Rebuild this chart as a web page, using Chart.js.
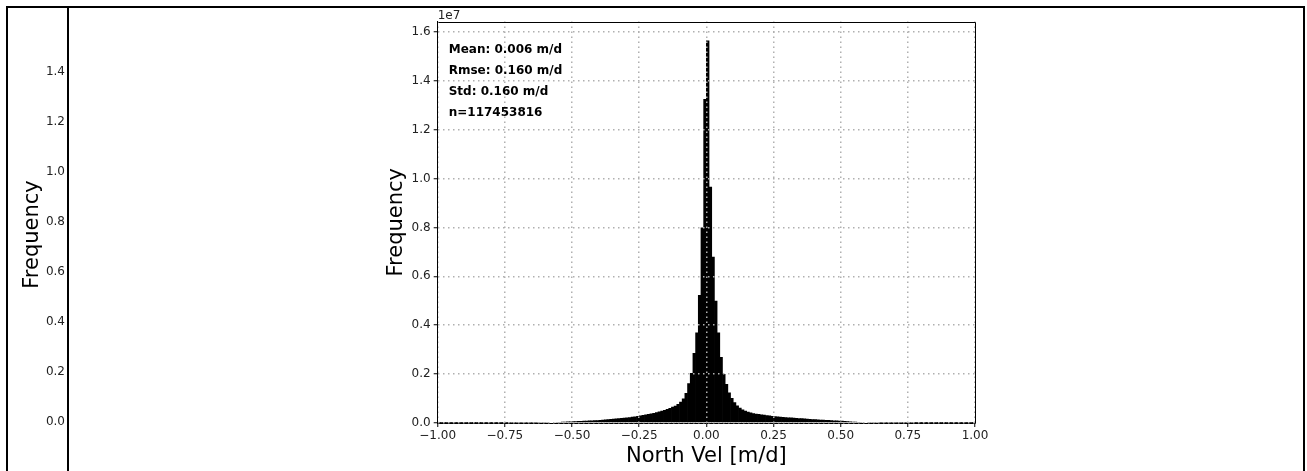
<!DOCTYPE html>
<html>
<head>
<meta charset="utf-8">
<script src="https://cdn.jsdelivr.net/npm/chart.js@4/dist/chart.umd.min.js"></script>
<style>
  body { margin: 0; background: #fff; width: 1307px; height: 471px; overflow: hidden; position: relative; }
  .frame { position: absolute; left: 6px; top: 6px; width: 1295px; height: 480px; border: 2px solid #000; border-bottom: none; }
  .divider { position: absolute; left: 67px; top: 6px; width: 2px; height: 480px; background: #000; }
  canvas { position: absolute; left: 0; top: 0; }
</style>
</head>
<body>
<div class="frame"></div>
<div class="divider"></div>
<canvas id="side" width="200" height="471"></canvas>
<canvas id="main" width="1307" height="471"></canvas>
<script>
// histogram: 200 bins from -1 to 1 m/d, counts in units of 1e7
const binStart = -1;
const binWidth = 0.01;
const freqE7 = [
  0.0001, 0.0001, 0.0001, 0.0001, 0.0001, 0.0001, 0.0002, 0.0002, 0.0002, 0.0002,
  0.0002, 0.0002, 0.0002, 0.0002, 0.0003, 0.0003, 0.0003, 0.0003, 0.0003, 0.0004,
  0.0004, 0.0004, 0.0004, 0.0005, 0.0005, 0.0005, 0.0006, 0.0006, 0.0007, 0.0007,
  0.0008, 0.0009, 0.0010, 0.0011, 0.0012, 0.0013, 0.0015, 0.0017, 0.0019, 0.0021,
  0.0024, 0.0027, 0.0030, 0.0034, 0.0038, 0.0042, 0.0047, 0.0052, 0.0058, 0.0064,
  0.0070, 0.0075, 0.0080, 0.0085, 0.0090, 0.0095, 0.0100, 0.0105, 0.0110, 0.0115,
  0.0120, 0.0130, 0.0140, 0.0150, 0.0160, 0.0170, 0.0180, 0.0190, 0.0200, 0.0210,
  0.0230, 0.0240, 0.0260, 0.0270, 0.0290, 0.0310, 0.0330, 0.0350, 0.0370, 0.0390,
  0.0410, 0.0440, 0.0470, 0.0500, 0.0530, 0.0570, 0.0610, 0.0660, 0.0710, 0.0780,
  0.0870, 0.1000, 0.1230, 0.1630, 0.2040, 0.2860, 0.3700, 0.5230, 0.8000, 1.3250,
  1.5640, 0.9660, 0.6800, 0.5000, 0.3700, 0.2700, 0.2000, 0.1600, 0.1250, 0.1020,
  0.0850, 0.0720, 0.0620, 0.0550, 0.0500, 0.0460, 0.0430, 0.0400, 0.0380, 0.0365,
  0.0350, 0.0340, 0.0320, 0.0310, 0.0290, 0.0280, 0.0270, 0.0260, 0.0250, 0.0240,
  0.0230, 0.0220, 0.0210, 0.0200, 0.0195, 0.0190, 0.0180, 0.0170, 0.0160, 0.0155,
  0.0150, 0.0140, 0.0135, 0.0130, 0.0125, 0.0120, 0.0110, 0.0105, 0.0100, 0.0095,
  0.0090, 0.0080, 0.0070, 0.0062, 0.0055, 0.0050, 0.0044, 0.0038, 0.0033, 0.0029,
  0.0025, 0.0022, 0.0019, 0.0017, 0.0015, 0.0014, 0.0013, 0.0012, 0.0011, 0.0010,
  0.0009, 0.0008, 0.0008, 0.0007, 0.0007, 0.0006, 0.0006, 0.0005, 0.0005, 0.0005,
  0.0004, 0.0004, 0.0004, 0.0004, 0.0003, 0.0003, 0.0003, 0.0003, 0.0003, 0.0003,
  0.0003, 0.0002, 0.0002, 0.0002, 0.0002, 0.0002, 0.0002, 0.0001, 0.0001, 0.0001
];
const statsLines = ['Mean: 0.006 m/d', 'Rmse: 0.160 m/d', 'Std: 0.160 m/d', 'n=117453816'];
const xTitle = 'North Vel [m/d]';
const yTitle = 'Frequency';
const yScaleLabel = '1e7';

const binCenters = freqE7.map((_, i) => binStart + binWidth * (i + 0.5));
const points = freqE7.map((v, i) => ({ x: binCenters[i], y: v }));

const FONT = 'DejaVu Sans';
const gridOpts = { color: '#b0b0b0', lineWidth: 1.5, tickColor: '#000', tickWidth: 1, tickLength: 4, tickBorderDash: [], z: 1, offset: false };
const borderOpts = { display: true, color: '#000', width: 1, dash: [1.5, 3.5], z: 1 };

// left cell: only a bare y axis
new Chart(document.getElementById('side'), {
  type: 'bar',
  data: { labels: [], datasets: [{ data: [] }] },
  options: {
    responsive: false,
    animation: false,
    plugins: { legend: { display: false }, tooltip: { enabled: false } },
    layout: { padding: { top: 47, bottom: 49, left: 0, right: 0 } },
    scales: {
      x: { display: false },
      y: {
        min: 0, max: 1.5,
        afterFit(s) { s.width = 67; },
        grid: { display: false },
        border: { display: false },
        ticks: { stepSize: 0.2, includeBounds: false, padding: -6, color: '#222',
          font: { family: FONT, size: 12 }, callback: v => v.toFixed(1) },
        title: { display: true, text: yTitle, color: '#000', font: { family: FONT, size: 21 },
          padding: { top: 20, bottom: 0 } }
      }
    }
  }
});

const extras = {
  id: 'extras',
  afterDraw(chart) {
    const { ctx, chartArea: a } = chart;
    ctx.save();
    ctx.strokeStyle = '#000';
    ctx.lineWidth = 1;
    ctx.beginPath();
    ctx.moveTo(Math.round(a.left) + 0.5, Math.round(a.top) + 0.5);
    ctx.lineTo(Math.round(a.right) + 0.5, Math.round(a.top) + 0.5);
    ctx.lineTo(Math.round(a.right) + 0.5, Math.round(a.bottom) + 0.5);
    ctx.stroke();
    ctx.fillStyle = '#222';
    ctx.textBaseline = 'alphabetic';
    ctx.font = '12px "DejaVu Sans"';
    ctx.fillText(yScaleLabel, a.left, a.top - 3);
    ctx.fillStyle = '#000';
    ctx.font = 'bold 12px "DejaVu Sans"';
    statsLines.forEach((t, i) => ctx.fillText(t, a.left + 11, a.top + 31 + i * 21.3));
    ctx.restore();
  }
};

new Chart(document.getElementById('main'), {
  type: 'bar',
  data: {
    datasets: [{
      data: points,
      backgroundColor: '#000',
      borderColor: '#000',
      borderWidth: 0,
      inflateAmount: 0,
      barPercentage: 1.25,
      categoryPercentage: 1
    }]
  },
  options: {
    responsive: false,
    animation: false,
    plugins: { legend: { display: false }, tooltip: { enabled: false } },
    layout: { padding: { left: 377.7, right: 332, top: 21.5, bottom: 0 } },
    scales: {
      x: {
        type: 'linear', min: -1, max: 1, offset: false,
        afterFit(s) { s.height = 48; },
        grid: gridOpts,
        border: borderOpts,
        ticks: { stepSize: 0.25, padding: 2, color: '#222', z: 1, font: { family: FONT, size: 12 },
          callback: v => (v < 0 ? '\u2212' : '') + Math.abs(v).toFixed(2) },
        title: { display: true, text: xTitle, color: '#000', font: { family: FONT, size: 21 },
          padding: { top: 0, bottom: 2 } }
      },
      y: {
        min: 0, max: 1.642,
        afterFit(s) { s.width = 60; },
        grid: gridOpts,
        border: borderOpts,
        ticks: { stepSize: 0.2, includeBounds: false, padding: 3, color: '#222', z: 1,
          font: { family: FONT, size: 12 }, callback: v => v.toFixed(1) },
        title: { display: true, text: yTitle, color: '#000', font: { family: FONT, size: 21 },
          padding: { top: 6, bottom: 0 } }
      }
    }
  },
  plugins: [extras]
});
</script>
</body>
</html>
